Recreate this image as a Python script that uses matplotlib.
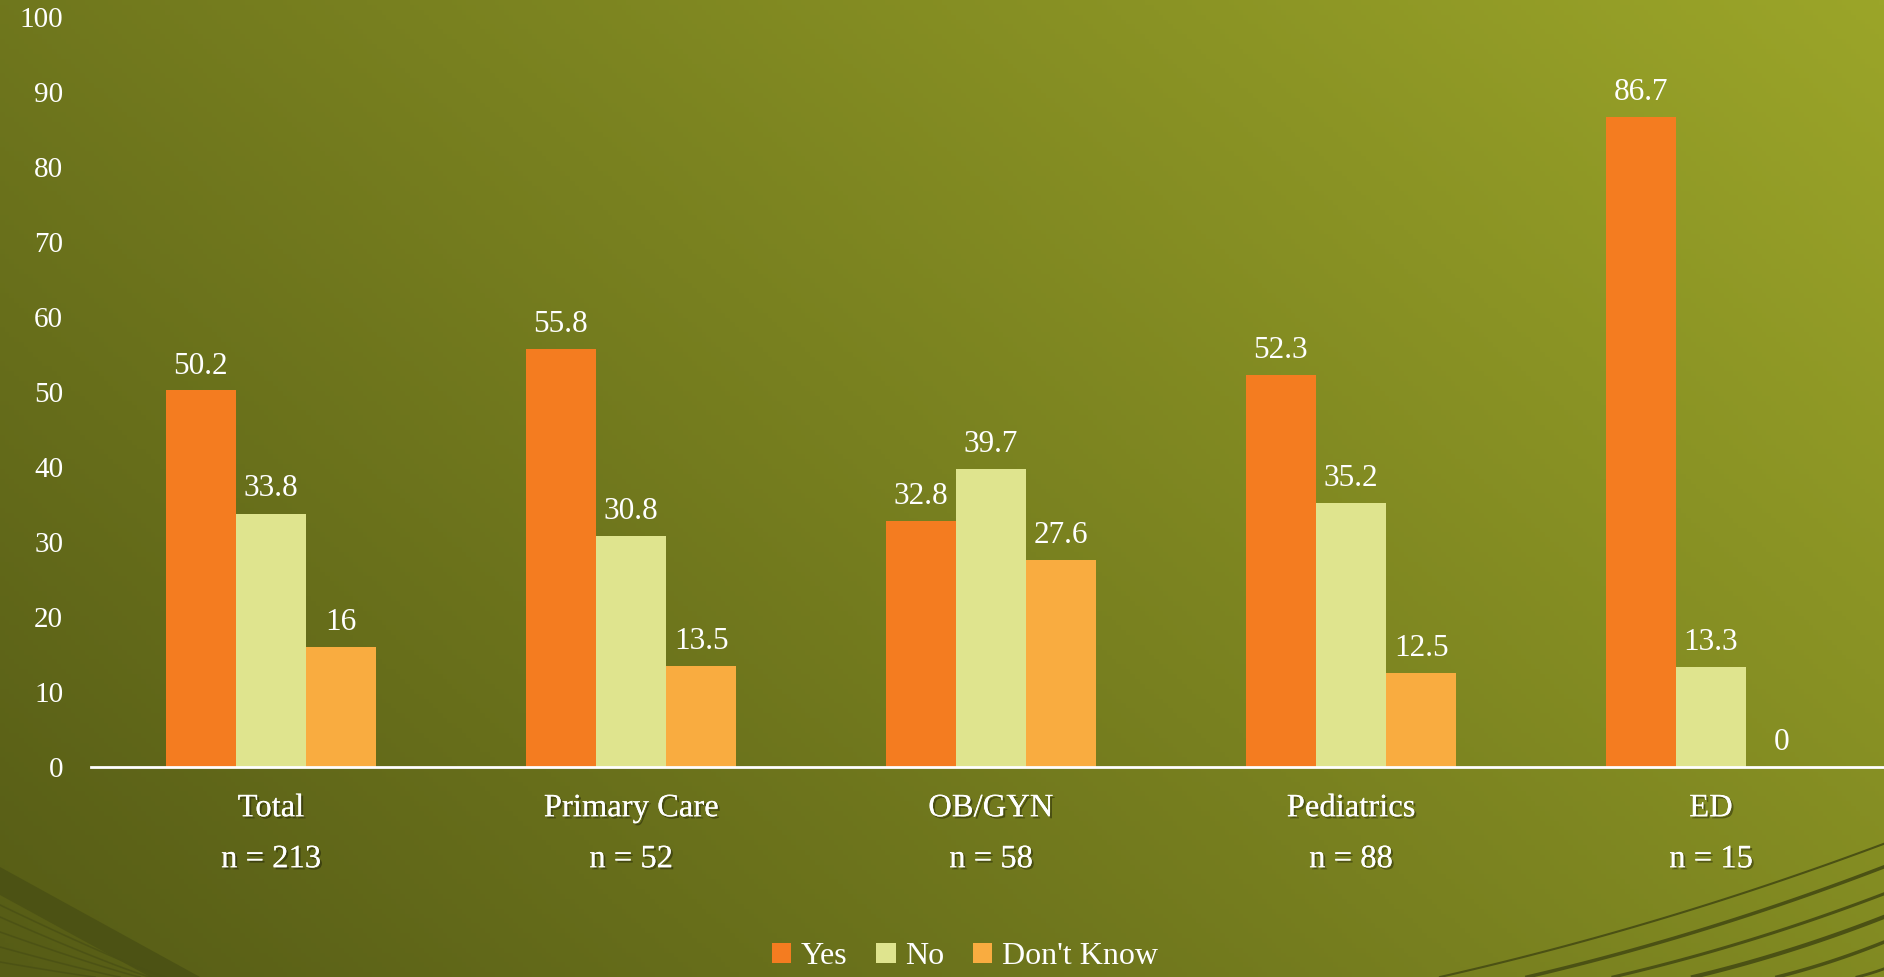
import numpy as np
import matplotlib
matplotlib.use("Agg")
import matplotlib.pyplot as plt
import matplotlib.patheffects as pe
from matplotlib.patches import Patch, Polygon
from matplotlib.colors import to_rgb

# survey results, percent by department
categories = ["Total", "Primary Care", "OB/GYN", "Pediatrics", "ED"]
sample_sizes = [213, 52, 58, 88, 15]
yes_vals = [50.2, 55.8, 32.8, 52.3, 86.7]
no_vals = [33.8, 30.8, 39.7, 35.2, 13.3]
dont_know_vals = [16, 13.5, 27.6, 12.5, 0]
series_names = ["Yes", "No", "Don't Know"]
colors = ["#f47c20", "#dfe48e", "#f9ac40"]

W, H = 1884, 977
plt.rcParams['font.family'] = ['Liberation Serif', 'DejaVu Serif']
fig = plt.figure(figsize=(W / 100, H / 100), dpi=100)

# olive gradient backdrop, dark at bottom-left, bright at top-right
bg = fig.add_axes([0, 0, 1, 1], zorder=-10)
gx, gy = np.meshgrid(np.linspace(0, 1, 400), np.linspace(0, 1, 200))
t = np.clip(0.63 * gx + 0.37 * gy, 0, 1)
c0 = np.array(to_rgb("#565c16"))
c1 = np.array(to_rgb("#9ba529"))
img = c0[None, None, :] * (1 - t[..., None]) + c1[None, None, :] * t[..., None]
bg.imshow(img, origin="lower", extent=[0, W, 0, H], aspect="auto")
bg.set_xlim(0, W)
bg.set_ylim(0, H)
bg.axis("off")

# swoosh decoration, bottom-left
dark = "#4b5114"
bg.add_patch(Polygon([(0, 110), (200, 0), (150, 0), (0, 82)], closed=True,
                     fc=dark, ec="none", alpha=0.9))
for y0, x1 in [(72, 165), (60, 150), (45, 140), (30, 120), (15, 95)]:
    xs = np.linspace(0, x1, 50)
    ys = y0 * (1 - xs / x1) ** 1.1
    bg.plot(xs, ys, color=dark, lw=1.2, alpha=0.85)

# swoosh decoration, bottom-right
for x0, y1, lw in [(1440, 137, 1.5), (1527, 114, 2.5), (1613, 87, 2.2),
                   (1693, 64, 3.0), (1777, 39, 2.5), (1857, 12, 2.0)]:
    s = np.linspace(0, 1, 80)
    xs = x0 + (W + 10 - x0) * s
    ys = y1 * (0.75 * s + 0.25 * s ** 2)
    bg.plot(xs, ys, color=dark, lw=lw)

ax = fig.add_axes([91 / W, 210 / H, 1800 / W, 750 / H])
ax.patch.set_visible(False)

x = np.arange(len(categories))
bw = 0.195
for k, (vals, col) in enumerate(zip([yes_vals, no_vals, dont_know_vals], colors)):
    pos = x + (k - 1) * bw
    ax.bar(pos, vals, width=bw, color=col, edgecolor="none", zorder=2)
    for px, v in zip(pos, vals):
        ax.annotate(f"{v:g}", xy=(px, v), xytext=(0, 10), textcoords="offset pixels",
                    ha="center", va="bottom", color="white", fontsize=22.5)

ax.set_xlim(-0.5, 4.5)
ax.set_ylim(0, 100)
ax.set_yticks(np.arange(0, 101, 10))
ax.tick_params(axis="y", length=0, pad=20, labelsize=21, labelcolor="white")
ax.set_xticks([])
for side in ["top", "right", "left"]:
    ax.spines[side].set_visible(False)
ax.spines["bottom"].set_color("white")
ax.spines["bottom"].set_linewidth(2)

shadow = [pe.withSimplePatchShadow(offset=(1.5, -1.5), shadow_rgbFace="black", alpha=0.35),
          pe.Normal()]
for i, (cat, n) in enumerate(zip(categories, sample_sizes)):
    ax.annotate(cat, xy=(i, 0), xytext=(0, -41), textcoords="offset pixels",
                ha="center", va="center", color="white", fontsize=23.5,
                path_effects=shadow, annotation_clip=False)
    ax.annotate(f"n = {n}", xy=(i, 0), xytext=(0, -92), textcoords="offset pixels",
                ha="center", va="center", color="white", fontsize=23.5,
                path_effects=shadow, annotation_clip=False)

handles = [Patch(facecolor=c, edgecolor="none", label=s) for c, s in zip(colors, series_names)]
fig.legend(handles=handles, loc="center", bbox_to_anchor=(965 / W, 1 - 957 / H),
           ncol=3, frameon=False, fontsize=23, labelcolor="white", borderpad=0.1,
           handlelength=0.6, handleheight=0.6, handletextpad=0.3, columnspacing=0.9)

fig.savefig("out.png", dpi=100)
